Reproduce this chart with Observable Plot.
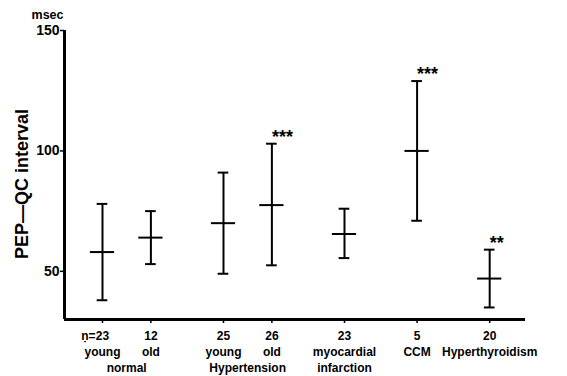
<!DOCTYPE html>
<html>
<head>
<meta charset="utf-8">
<script src="https://cdn.jsdelivr.net/npm/d3@7"></script>
<script src="https://cdn.jsdelivr.net/npm/@observablehq/plot@0.6"></script>
<style>
  html, body { margin: 0; padding: 0; background: #fff; }
  #chart svg { display: block; }
</style>
</head>
<body>
<div id="chart"></div>
<script>
// ---- data ----
const subgroups = ["young", "old", "young", "old", "myocardial", "CCM", "Hyperthyroidism"];
const subLine2  = ["", "", "", "", "infarction", "", ""];
const groups    = ["normal", "normal", "Hypertension", "Hypertension", "myocardial infarction", "CCM", "Hyperthyroidism"];
const counts    = [23, 12, 25, 26, 23, 5, 20];
const means     = [58, 64, 70, 77.5, 65.5, 100, 47];
const upper     = [78, 75, 91, 103, 76, 129, 59];
const lower     = [38, 53, 49, 52.5, 55.5, 71, 35];
const stars     = ["", "", "", "***", "", "***", "**"];
const yTicks    = [50, 100, 150];

// position along x derived from grouping: +1 within a group, +1.5 between groups
let p = 0;
const data = subgroups.map((s, i) => {
  if (i > 0) p += groups[i] === groups[i - 1] ? 1 : 1.5;
  return {sub: s, line2: subLine2[i], group: groups[i], n: counts[i], mean: means[i],
          hi: upper[i], lo: lower[i], star: stars[i], pos: p};
});
// third-line labels: group names for multi-member groups, plus second lines of wrapped labels
const thirdLine = d3.groups(data, d => d.group)
  .filter(([, v]) => v.length > 1)
  .map(([g, v]) => ({label: g, pos: d3.mean(v, d => d.pos)}))
  .concat(data.filter(d => d.line2).map(d => ({label: d.line2, pos: d.pos})));

const xMin = -0.785, xMax = 8.74;
const capW = 0.11, meanW = 0.25;
const font = "'Liberation Sans', Arial, Helvetica, sans-serif";
const lab = {fontSize: 12, fontWeight: "bold", fill: "#000"};

const chart = Plot.plot({
  width: 567,
  height: 376,
  marginLeft: 64,
  marginRight: 42,
  marginTop: 30,
  marginBottom: 57,
  style: {fontFamily: font, background: "#fff", color: "#000"},
  x: {type: "linear", domain: [xMin, xMax]},
  y: {domain: [30, 150]},
  marks: [
    // axes lines
    Plot.ruleX([xMin], {stroke: "#000", strokeWidth: 3}),
    Plot.ruleY([30], {stroke: "#000", strokeWidth: 3}),
    Plot.axisY({ticks: yTicks, tickSize: 4, tickPadding: 1, tickFormat: d3.format("d"),
                fontSize: 14, fontWeight: "bold", label: null, strokeWidth: 1.5}),
    Plot.axisX({ticks: data.map(d => d.pos), tickSize: 4, tickFormat: () => "", label: null, strokeWidth: 1.5}),
    // error bars
    Plot.ruleX(data, {x: "pos", y1: "lo", y2: "hi", stroke: "#000", strokeWidth: 2}),
    Plot.ruleY(data, {y: "hi", x1: d => d.pos - capW, x2: d => d.pos + capW, stroke: "#000", strokeWidth: 2}),
    Plot.ruleY(data, {y: "lo", x1: d => d.pos - capW, x2: d => d.pos + capW, stroke: "#000", strokeWidth: 2}),
    Plot.ruleY(data, {y: "mean", x1: d => d.pos - meanW, x2: d => d.pos + meanW, stroke: "#000", strokeWidth: 2}),
    // significance stars
    Plot.text(data.filter(d => d.star), {x: "pos", y: "hi", text: "star", textAnchor: "start",
      lineAnchor: "bottom", dy: -1, fontSize: 18, fontWeight: "bold", letterSpacing: 3, fill: "#000"}),
    // n labels
    Plot.text(data, {x: "pos", y: 30, text: "n", dy: 17, ...lab}),
    Plot.text(data.slice(0, 1), {x: "pos", y: 30, text: () => "ṇ=", textAnchor: "end", dx: -7, dy: 17, ...lab}),
    // subgroup labels
    Plot.text(data, {x: "pos", y: 30, text: "sub", dy: 33, ...lab}),
    // third line labels
    Plot.text(thirdLine, {x: "pos", y: 30, text: "label", dy: 49, ...lab}),
    // unit label
    Plot.text(["msec"], {x: xMin, y: 150, text: d => d, textAnchor: "end", dx: -1, dy: -16,
      fontSize: 12.5, fontWeight: "bold", fill: "#000"}),
    // y label
    Plot.text(["PEP\u2014QC interval"], {x: xMin, y: 86.3, text: d => d, rotate: -90, dx: -42,
      fontSize: 18, fontWeight: "bold", fill: "#000"})
  ]
});
document.getElementById("chart").append(chart);
</script>
</body>
</html>
